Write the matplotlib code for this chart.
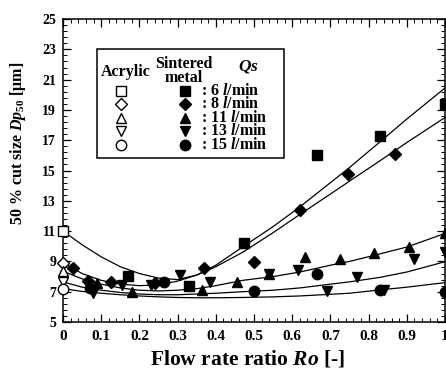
import numpy as np
import matplotlib
matplotlib.use('Agg')
import matplotlib.pyplot as plt
from matplotlib.patches import Rectangle

plt.rcParams['font.family'] = 'Liberation Serif'
plt.rcParams['font.weight'] = 'bold'
plt.rcParams['axes.labelweight'] = 'bold'
plt.rcParams['mathtext.fontset'] = 'custom'
plt.rcParams['mathtext.rm'] = 'Liberation Serif:bold'
plt.rcParams['mathtext.it'] = 'Liberation Serif:italic:bold'
plt.rcParams['mathtext.bf'] = 'Liberation Serif:bold'

# acrylic cyclone, Ro = 0 only
acr_y = {'s': 11.0, 'D': 8.9, '^': 8.35, 'v': 7.65, 'o': 7.2}

# sintered metal cyclone
sq6_x = [0.17, 0.33, 0.475, 0.665, 0.83, 1.0]
sq6_y = [8.05, 7.4, 10.2, 16.0, 17.3, 19.4]
dia8_x = [0.025, 0.065, 0.125, 0.24, 0.37, 0.5, 0.62, 0.745, 0.87]
dia8_y = [8.55, 7.7, 7.65, 7.6, 8.55, 8.95, 12.4, 14.75, 16.1]
tri11_x = [0.09, 0.18, 0.365, 0.455, 0.54, 0.633, 0.725, 0.815, 0.905, 1.0]
tri11_y = [7.55, 7.0, 7.1, 7.65, 8.2, 9.3, 9.15, 9.55, 9.95, 10.85]
tri13_x = [0.078, 0.155, 0.23, 0.305, 0.385, 0.54, 0.615, 0.69, 0.77, 0.84, 0.92, 1.0]
tri13_y = [6.9, 7.45, 7.45, 8.1, 7.65, 8.2, 8.45, 7.05, 7.95, 7.1, 9.15, 9.6]
cir15_x = [0.07, 0.265, 0.5, 0.665, 0.83, 1.0]
cir15_y = [7.25, 7.65, 7.05, 8.15, 7.1, 7.0]

# fitted curves
cx = [0, 0.05, 0.1, 0.15, 0.2, 0.25, 0.3, 0.35, 0.4, 0.47, 0.55, 0.62, 0.7, 0.75, 0.83, 0.9, 1.0]
curve6 = [11.0, 10.1, 9.3, 8.65, 8.2, 7.9, 7.8, 8.1, 8.75, 9.95, 11.3, 12.6, 14.2, 15.2, 16.9, 18.4, 20.45]
curve8 = [8.9, 8.2, 7.75, 7.5, 7.4, 7.45, 7.7, 8.1, 8.65, 9.6, 10.9, 12.1, 13.45, 14.3, 15.65, 16.85, 18.5]
curve11 = [8.35, 7.85, 7.5, 7.25, 7.1, 7.05, 7.1, 7.2, 7.4, 7.75, 8.0, 8.3, 8.75, 9.0, 9.5, 9.95, 10.85]
curve13 = [7.65, 7.3, 7.1, 6.95, 6.85, 6.8, 6.8, 6.85, 6.9, 7.0, 7.1, 7.25, 7.5, 7.65, 7.95, 8.3, 8.98]
curve15 = [7.2, 7.02, 6.9, 6.8, 6.72, 6.66, 6.62, 6.6, 6.6, 6.62, 6.66, 6.72, 6.83, 6.9, 7.12, 7.3, 7.6]

qs_labels = ['6', '8', '11', '13', '15']
markers = ['s', 'D', '^', 'v', 'o']
msizes = [7.5, 6.0, 7.5, 7.5, 7.5]

fig = plt.figure(figsize=(4.46, 3.74), dpi=100)
ax = fig.add_axes([0.1413, 0.139, 0.8565, 0.81])

for c in [curve6, curve8, curve11, curve13, curve15]:
    ax.plot(cx, c, '-', color='black', lw=0.9, zorder=2)

series = [(sq6_x, sq6_y), (dia8_x, dia8_y), (tri11_x, tri11_y),
          (tri13_x, tri13_y), (cir15_x, cir15_y)]
for (x, y), m, ms in zip(series, markers, msizes):
    ax.plot(x, y, m, color='black', mfc='black', ms=ms, ls='none',
            clip_on=False, zorder=3)

for m, ms in zip(markers, msizes):
    ax.plot([0], [acr_y[m]], m, color='black', mfc='white', mew=1.0, ms=ms,
            ls='none', clip_on=False, zorder=4)

ax.set_xlim(0, 1)
ax.set_ylim(5, 25)
ax.set_xticks(np.arange(0, 1.01, 0.1))
ax.set_xticklabels(['0', '0.1', '0.2', '0.3', '0.4', '0.5', '0.6', '0.7', '0.8', '0.9', '1'])
ax.set_xticks(np.arange(0, 1.001, 0.02), minor=True)
ax.set_yticks(np.arange(5, 25.1, 2))
ax.set_yticks(np.arange(5, 25.01, 0.4), minor=True)
ax.tick_params(which='both', direction='in', top=True, right=True)
ax.tick_params(which='major', length=6, width=0.9, pad=5)
ax.tick_params(which='minor', length=3, width=0.7)
ax.tick_params(axis='x', labelsize=11, pad=6)
ax.tick_params(axis='y', labelsize=10)
for lab in ax.get_xticklabels() + ax.get_yticklabels():
    lab.set_fontweight('bold')
for s in ax.spines.values():
    s.set_linewidth(1.1)

ax.set_xlabel('Flow rate ratio $\\mathit{Ro}$ [-]', fontsize=15.5)
ax.xaxis.set_label_coords(0.484, -0.088)
ax.set_ylabel('50 % cut size $\\mathit{Dp}_{50}$ [\u03bcm]', fontsize=11.5)
ax.yaxis.set_label_coords(-0.092, 0.59)

# legend box
ax.add_patch(Rectangle((0.089, 0.541), 0.4895, 0.36, transform=ax.transAxes,
                       fill=False, ec='black', lw=1.1, zorder=5, clip_on=False))
ax.text(0.165, 0.826, 'Acrylic', transform=ax.transAxes, ha='center', va='center', fontsize=11.5)
ax.text(0.317, 0.829, 'Sintered\nmetal', transform=ax.transAxes, ha='center', va='center',
        fontsize=11.5, linespacing=0.8)
ax.text(0.484, 0.842, '$\\mathit{Qs}$', transform=ax.transAxes, ha='center', va='center', fontsize=12.5)
for i, (lab, m, ms) in enumerate(zip(qs_labels, markers, msizes)):
    yy = 0.764 - i * 0.0449
    ax.plot([0.152], [yy], m, color='black', mfc='white', mew=1.0, ms=ms,
            transform=ax.transAxes, clip_on=False, zorder=6)
    ax.plot([0.319], [yy], m, color='black', mfc='black', ms=ms,
            transform=ax.transAxes, clip_on=False, zorder=6)
    ax.text(0.362, yy, ': ' + lab + ' $\\mathit{l}$/min', transform=ax.transAxes,
            ha='left', va='center', fontsize=11.5)

fig.savefig('out.png', dpi=100)
